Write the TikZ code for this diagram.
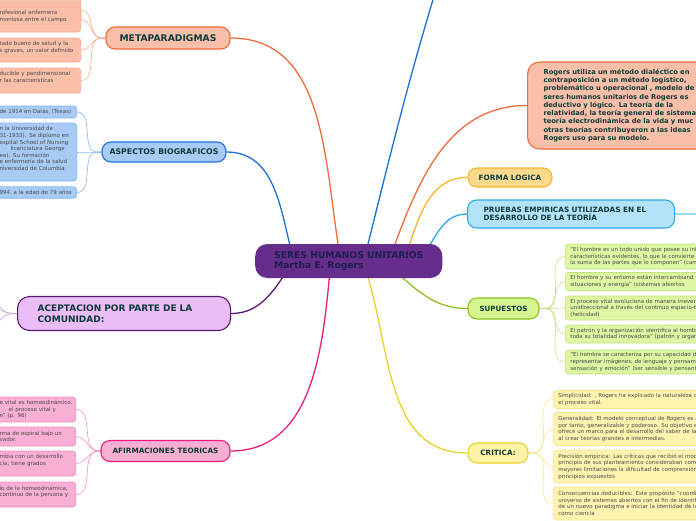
\documentclass[tikz,border=0pt]{standalone}
\usepackage{fontspec}
\setmainfont{DejaVu Sans}
\usetikzlibrary{backgrounds,calc}
\definecolor{headtxt}{HTML}{0E3B38}
\definecolor{leaftxt}{HTML}{4A4A4A}
\definecolor{ctrfill}{HTML}{662D8C}
\definecolor{ctrtxt}{HTML}{1B1F4D}
\definecolor{salfill}{HTML}{F9BFA9}
\definecolor{saldraw}{HTML}{F26A3C}
\definecolor{salleaf}{HTML}{F7A98E}
\definecolor{bluefill}{HTML}{A7CBF5}
\definecolor{bluedraw}{HTML}{1C6FD8}
\definecolor{blueleaf}{HTML}{86B5EE}
\definecolor{purfill}{HTML}{EBBDF6}
\definecolor{purdraw}{HTML}{591870}
\definecolor{purleaf}{HTML}{C6A2D6}
\definecolor{pinkfill}{HTML}{F9AED4}
\definecolor{pinkdraw}{HTML}{E91E7A}
\definecolor{pinkleaf}{HTML}{F58FC0}
\definecolor{orfill}{HTML}{FCD98C}
\definecolor{ordraw}{HTML}{F6B52A}
\definecolor{cyfill}{HTML}{B2E3F9}
\definecolor{cydraw}{HTML}{2AA8E6}
\definecolor{cyleaf}{HTML}{9BD8F4}
\definecolor{grfill}{HTML}{D6F58E}
\definecolor{grdraw}{HTML}{8DC21F}
\definecolor{grleaffill}{HTML}{DDF7A2}
\definecolor{grleaf}{HTML}{C2E27E}
\definecolor{yefill}{HTML}{FEF3A6}
\definecolor{yedraw}{HTML}{E6D12A}
\definecolor{yeleaffill}{HTML}{FEF4B0}
\definecolor{yeleaf}{HTML}{F3E48A}
\tikzset{
  topic/.style={rounded corners=9pt, line width=1.1pt, text=headtxt,
    font=\bfseries\fontsize{7.3}{9}\selectfont, inner sep=0pt},
  leafbox/.style={rounded corners=3pt, line width=0.7pt, text=leaftxt,
    font=\fontsize{5.5}{6.6}\selectfont, align=left, inner ysep=0pt},
  leafL/.style={leafbox, anchor=east, inner xsep=4pt},
  leafR/.style={leafbox, anchor=west, inner xsep=5pt, text width=200pt},
  branch/.style={line width=1.3pt},
  twig/.style={line width=0.6pt},
}
\begin{document}
\begin{tikzpicture}[x=1pt,y=1pt]
\clip (0,0) rectangle (696,-520);
% ---------- central ----------
\node[anchor=west, fill=ctrfill, rounded corners=12pt, inner xsep=19pt, inner ysep=0pt,
  minimum height=34pt, align=left, text=ctrtxt, font=\bfseries\fontsize{9.2}{10.6}\selectfont]
  (c) at (255,-261) {SERES HUMANOS UNITARIOS\\Martha E. Rogers};
\coordinate (top) at (458,80);
% ---------- METAPARADIGMAS ----------
\node[topic, fill=salfill, draw=saldraw, minimum width=124pt, minimum height=22pt,
  font=\bfseries\fontsize{9.2}{11}\selectfont] (meta) at (168,-38) {METAPARADIGMAS};
\node[leafL, text width=77pt, fill=salfill, draw=salleaf, minimum height=25pt] (m0) at (81,-10) {};
\node[leafL, text width=77pt, fill=salfill, draw=salleaf, minimum height=25pt] (m1) at (81,-19.5)
  {rofesional enfermera\\moniosa entre el campo\\\mbox{}};
\node[leafL, text width=77pt, fill=salfill, draw=salleaf, minimum height=24pt] (m2) at (81,-50)
  {tado bueno de salud y la\\s graves, un valor definido\\\mbox{}};
\node[leafL, text width=77pt, fill=salfill, draw=salleaf, minimum height=25pt] (m3) at (81,-80.5)
  {ducible y pandimensional\\r las  características\\\mbox{}};
% ---------- ASPECTOS ----------
\node[topic, fill=bluefill, draw=bluedraw, minimum width=124pt, minimum height=20pt,
  font=\bfseries\fontsize{7.8}{9}\selectfont] (asp) at (164,-152) {ASPECTOS BIOGRAFICOS};
\node[leafL, text width=73pt, fill=bluefill, draw=blueleaf, minimum height=12pt] (a1) at (77,-112)
  {\mbox{de 1914 en Dalas, (Texas)}};
\node[leafL, text width=73pt, fill=bluefill, draw=blueleaf, minimum height=58pt] (a2) at (77,-152)
  {n la Universidad de\\\mbox{31-1933). Se diplomo en}\\\mbox{ospital School of Nursing}\\\hspace*{11pt}licenciatura George\\ee). Su formación\\\mbox{e enfermería de la salud}\\\mbox{niversidad de Columbia}\\\mbox{}};
\node[leafL, text width=73pt, fill=bluefill, draw=blueleaf, minimum height=11.5pt] (a3) at (77,-192.5)
  {\mbox{994, a la edad de 79 años}};
% ---------- ACEPTACION ----------
\node[topic, anchor=west, fill=purfill, draw=purdraw, rounded corners=12pt, minimum height=34pt,
  inner xsep=20pt, text width=173pt, align=left, font=\bfseries\fontsize{9}{11}\selectfont]
  (acep) at (17,-313.5) {ACEPTACION POR PARTE DE LA\\COMUNIDAD:};
\coordinate (ac1) at (-25,-212);
\coordinate (ac2) at (-20,-303);
\coordinate (ac3) at (-25,-412);
% ---------- AFIRMACIONES ----------
\node[topic, fill=pinkfill, draw=pinkdraw, minimum width=129pt, minimum height=21pt] (afir) at (165.5,-451)
  {AFIRMACIONES TEORICAS};
\node[leafL, text width=72pt, fill=pinkfill, draw=pinkleaf, minimum height=25pt] (f1) at (76,-409.5)
  {\mbox{e vital es homeodinámico.}\\\hspace*{9pt}el proceso vital y\\n" (p. 96)};
\node[leafL, text width=72pt, fill=pinkfill, draw=pinkleaf, minimum height=19pt] (f2) at (76,-436.5)
  {\mbox{rma de espiral bajo un}\\vador.};
\node[leafL, text width=72pt, fill=pinkfill, draw=pinkleaf, minimum height=25pt] (f3) at (76,-463.5)
  {\mbox{mbia con un desarrollo}\\cia;  tiene grados\\\mbox{}};
\node[leafL, text width=72pt, fill=pinkfill, draw=pinkleaf, minimum height=25pt] (f4) at (76,-494.5)
  {\mbox{io de la homeodinámica,}\\\mbox{continuo de la persona y}\\\mbox{}};
% ---------- Rogers ----------
\node[topic, anchor=west, fill=salfill, draw=saldraw, rounded corners=12pt, minimum height=87pt,
  inner xsep=16pt, text width=220pt, align=left, font=\bfseries\fontsize{6.75}{8.25}\selectfont]
  (rog) at (527,-105.5) {Rogers utiliza un método dialéctico en\\contraposición a un método logístico,\\problemático u operacional , modelo de\\seres humanos unitarios de Rogers es\\deductivo y lógico. La teoría de la\\relatividad, la teoría general de sistema\\teoría electrodinámica de la vida y muc\\otras teorías contribuyeron a las ideas\\Rogers uso para su modelo.};
% ---------- FORMA LOGICA ----------
\node[topic, fill=orfill, draw=ordraw, minimum width=84pt, minimum height=19pt] (forma) at (510,-177.5)
  {FORMA LOGICA};
% ---------- PRUEBAS ----------
\node[topic, anchor=west, fill=cyfill, draw=cydraw, minimum height=28pt, inner xsep=16pt,
  text width=175pt, align=left, font=\bfseries\fontsize{7.3}{8.5}\selectfont] (prue) at (467,-214)
  {PRUEBAS EMPIRICAS UTILIZADAS EN EL\\DESARROLLO DE LA TEORÍA};
\coordinate (pr2) at (720,-214);
% ---------- SUPUESTOS ----------
\node[topic, fill=grfill, draw=grdraw, minimum width=71pt, minimum height=21pt,
  font=\bfseries\fontsize{7.1}{9}\selectfont] (sup) at (503.5,-308.5) {SUPUESTOS};
\node[leafR, fill=grleaffill, draw=grleaf, minimum height=25pt] (s1) at (565,-256.5)
  {"El hombre es un todo unido que posee su int\\características evidentes, lo que le convierte e\\la suma de las partes que lo componen" (cam};
\node[leafR, fill=grleaffill, draw=grleaf, minimum height=18pt] (s2) at (565,-281.5)
  {El hombre y su entorno  están intercambiand\\situaciones y energía" (sistemas abiertos};
\node[leafR, fill=grleaffill, draw=grleaf, minimum height=24pt] (s3) at (565,-308)
  {El proceso vital evoluciona de manera irrevers\\unidireccional a través del continuo espacio-ti\\(helicidad)};
\node[leafR, fill=grleaffill, draw=grleaf, minimum height=18pt] (s4) at (565,-334)
  {El patrón y la organización identifica al hombr\\toda su totalidad innovadora" (patrón y organ};
\node[leafR, fill=grleaffill, draw=grleaf, minimum height=24pt] (s5) at (565,-362)
  {"El hombre se caracteriza por su capacidad de\\representar imágenes, de lenguaje y pensami\\sensación y emoción" (ser sensible y pensante};
% ---------- CRITICA ----------
\node[topic, fill=yefill, draw=yedraw, minimum width=60pt, minimum height=20pt] (crit) at (498,-453)
  {CRITICA:};
\node[leafR, fill=yeleaffill, draw=yeleaf, minimum height=18pt] (k1) at (553,-399.5)
  {Simplicidad: , Rogers ha explicado la naturaleza d\\el proceso vital.};
\node[leafR, fill=yeleaffill, draw=yeleaf, minimum height=33pt] (k2) at (553,-429)
  {Generalidad: El modelo conceptual de Rogers es a\\por tanto, generalizable y poderoso. Su objetivo e\\ofrece un marco para el desarrollo del saber de la\\al crear teorías grandes e intermedias.};
\node[leafR, fill=yeleaffill, draw=yeleaf, minimum height=33pt] (k3) at (553,-466.5)
  {Precisión empírica: Las críticas que recibió el mod\\principio de sus planteamiento consideraban como\\mayores limitaciones la dificultad de comprensión d\\principios expuestos};
\node[leafR, fill=yeleaffill, draw=yeleaf, minimum height=33pt] (k4) at (553,-503.5)
  {Consecuencias deducibles: Este propósito "coordin\\universo de sistemas abiertos con el fin de identif\\de un nuevo paradigma e iniciar la identidad de la\\como ciencia};
% ---------- connectors ----------
\begin{pgfonlayer}{background}
\clip (0,0) rectangle (696,-520);
\draw[branch, saldraw] ($(c.center)+(-8,0)$) to[out=100,in=0] (meta.east);
\draw[branch, bluedraw] ($(c.center)+(-55,0)$) to[out=105,in=0] (asp.east);
\draw[branch, purdraw] ($(c.center)+(-55,0)$) to[out=235,in=0] (acep.east);
\draw[branch, pinkdraw] ($(c.center)+(-18,0)$) to[out=265,in=0] (afir.east);
\draw[branch, yedraw] ($(c.center)+(14,0)$) to[out=-70,in=180] (crit.west);
\draw[branch, grdraw] ($(c.center)+(35,0)$) to[out=-40,in=180] (sup.west);
\draw[branch, ordraw] ($(c.center)+(55,0)$) to[out=70,in=180] (forma.west);
\draw[branch, cydraw] ($(c.center)+(70,0)$) to[out=50,in=180] (prue.west);
\draw[branch, saldraw] ($(c.center)+(40,0)$) to[out=70,in=180] (rog.west);
\draw[branch, bluedraw] ($(c.center)+(15,0)$) to[out=76,in=-108] (top);
\draw[branch, cyleaf] (prue.east) -- (pr2);
% leaf twigs
\foreach \l in {m0,m1,m2,m3}
  \draw[twig, salleaf] (meta.west) -- ++(-4,0) to[out=180,in=0] (\l.east);
\foreach \l in {a1,a2,a3}
  \draw[twig, blueleaf] (asp.west) -- ++(-4,0) to[out=180,in=0] (\l.east);
\foreach \l in {ac1,ac2,ac3}
  \draw[twig, purleaf] (acep.west) -- ++(-3,0) to[out=180,in=0] (\l);
\foreach \l in {f1,f2,f3,f4}
  \draw[twig, pinkleaf] (afir.west) -- ++(-2,0) to[out=180,in=0] (\l.east);
\foreach \l in {s1,s2,s3,s4,s5}
  \draw[twig, grleaf] (sup.east) -- ++(6,0) to[out=0,in=180] (\l.west);
\foreach \l in {k1,k2,k3,k4}
  \draw[twig, yeleaf] (crit.east) -- ++(5,0) to[out=0,in=180] (\l.west);
\end{pgfonlayer}
\end{tikzpicture}
\end{document}
